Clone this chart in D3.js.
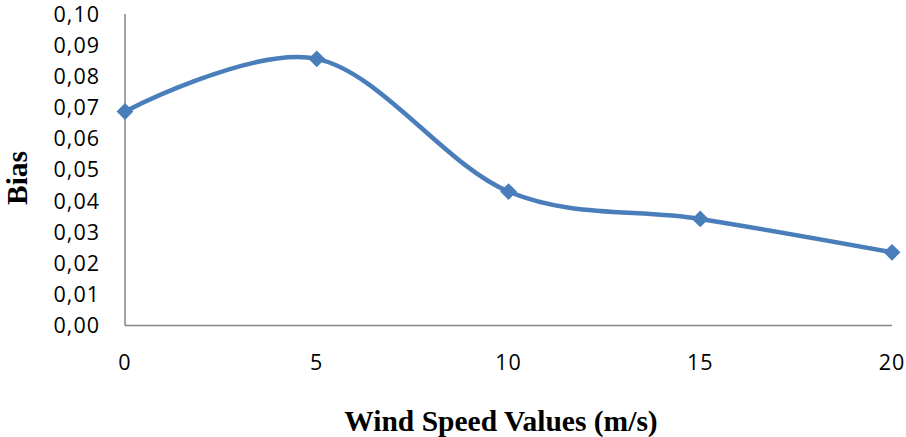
<!DOCTYPE html>
<html><head><meta charset="utf-8">
<script src="https://cdn.jsdelivr.net/npm/d3@7"></script>
<style>body{margin:0;background:#fff}svg{display:block}</style>
</head><body>
<script>
const windSpeeds = [0, 5, 10, 15, 20];
const biasValues = [0.0687, 0.0856, 0.0430, 0.0342, 0.0235];
const yTicks = [0, 0.01, 0.02, 0.03, 0.04, 0.05, 0.06, 0.07, 0.08, 0.09, 0.10];
const xTicks = [0, 5, 10, 15, 20];

const W = 906, H = 437;
const svg = d3.select("body").append("svg").attr("width", W).attr("height", H);
const x = d3.scaleLinear().domain([0, 20]).range([125, 892]);
const y = d3.scaleLinear().domain([0, 0.10]).range([325.5, 14]);
const fmt = d => d.toFixed(2).replace(".", ",");

svg.append("line").attr("x1", x(0)).attr("x2", x(0)).attr("y1", y(0.10)).attr("y2", y(0))
  .attr("stroke", "#868686").attr("stroke-width", 1.5);
svg.append("line").attr("x1", x(0)).attr("x2", x(20)).attr("y1", y(0)).attr("y2", y(0))
  .attr("stroke", "#868686").attr("stroke-width", 1.5);

svg.selectAll(".yt").data(yTicks).enter().append("text")
  .attr("x", 100).attr("y", d => y(d)).attr("dy", "0.36em")
  .attr("text-anchor", "end").attr("font-family", "Open Sans").attr("font-size", 21.5)
  .attr("letter-spacing", 1)
  .attr("fill", "#000").text(fmt);
svg.selectAll(".xt").data(xTicks).enter().append("text")
  .attr("x", d => x(d)).attr("y", 362).attr("dy", "0.36em")
  .attr("text-anchor", "middle").attr("font-family", "Open Sans").attr("font-size", 21.5)
  .attr("letter-spacing", 1)
  .attr("fill", "#000").text(d => d);

svg.append("text").attr("x", 501).attr("y", 431).attr("text-anchor", "middle")
  .attr("font-family", "Liberation Serif").attr("font-weight", "bold").attr("font-size", 29.5)
  .text("Wind Speed Values (m/s)");
svg.append("text").attr("transform", "translate(27,178) rotate(-90)").attr("text-anchor", "middle")
  .attr("font-family", "Liberation Serif").attr("font-weight", "bold").attr("font-size", 29.5)
  .text("Bias");

const data = windSpeeds.map((w, i) => [w, biasValues[i]]);
const line = d3.line().x(d => x(d[0])).y(d => y(d[1])).curve(d3.curveCardinal.tension(0));
svg.append("path").datum(data).attr("d", line).attr("fill", "none")
  .attr("stroke", "#4A7EBB").attr("stroke-width", 4.5).attr("stroke-linejoin", "round");

svg.selectAll(".pt").data(data).enter().append("path")
  .attr("transform", d => `translate(${x(d[0])},${y(d[1])})`)
  .attr("d", d3.symbol().type(d3.symbolDiamond2).size(180))
  .attr("fill", "#4A7EBB");
</script>
</body></html>
